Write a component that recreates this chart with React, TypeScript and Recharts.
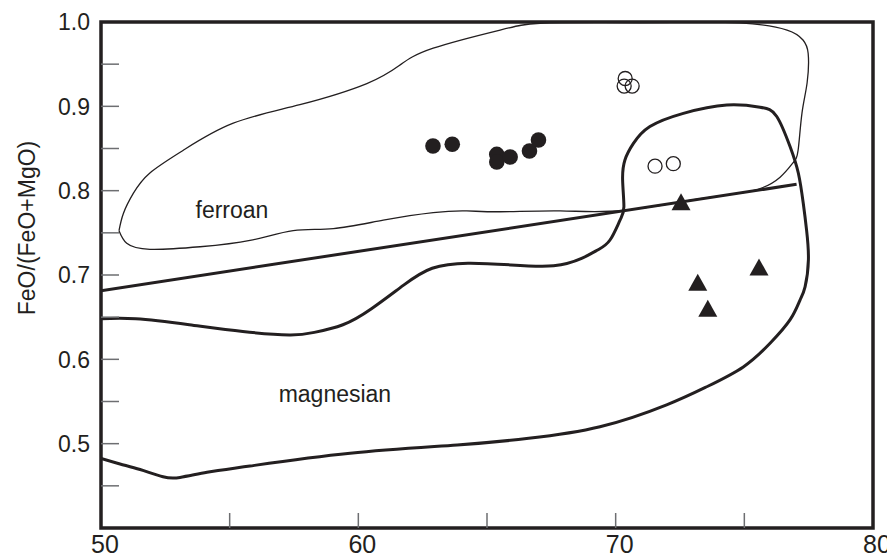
import React from 'react';
import {
  ComposedChart,
  XAxis,
  YAxis,
  Line,
  Scatter,
  ReferenceArea,
  ReferenceDot,
} from 'recharts';

const INK = '#231f20';
const TICK_GRAY = '#6d6e71';
const FONT = '"Liberation Sans", Arial, Helvetica, sans-serif';

const xTicks = [50, 55, 60, 65, 70, 75, 80];
const xLabelled = [50, 60, 70, 80];
const yTicks = [0.45, 0.5, 0.55, 0.6, 0.65, 0.7, 0.75, 0.8, 0.85, 0.9, 0.95, 1.0];
const yLabelled = [0.5, 0.6, 0.7, 0.8, 0.9, 1.0];

const filledCircles = [
  { x: 62.9, y: 0.853 },
  { x: 63.65, y: 0.855 },
  { x: 65.38, y: 0.843 },
  { x: 65.38, y: 0.834 },
  { x: 65.9, y: 0.84 },
  { x: 66.65, y: 0.847 },
  { x: 67.0, y: 0.86 },
];

const openCircles = [
  { x: 70.37, y: 0.933 },
  { x: 70.33, y: 0.924 },
  { x: 70.64, y: 0.924 },
  { x: 71.53, y: 0.829 },
  { x: 72.24, y: 0.832 },
];

const triangles = [
  { x: 72.54, y: 0.787 },
  { x: 75.57, y: 0.7095 },
  { x: 73.19, y: 0.6913 },
  { x: 73.58, y: 0.6605 },
];

const ferroanField = [
  { x: 50.7, y: 0.7525 },
  { x: 50.87, y: 0.773 },
  { x: 51.26, y: 0.797 },
  { x: 51.9, y: 0.821 },
  { x: 53.2, y: 0.848 },
  { x: 55.14, y: 0.88 },
  { x: 57.73, y: 0.902 },
  { x: 60.33, y: 0.927 },
  { x: 61.62, y: 0.949 },
  { x: 62.91, y: 0.969 },
  { x: 65.51, y: 0.9905 },
  { x: 67.06, y: 0.9985 },
  { x: 69.5, y: 0.9995 },
  { x: 72.2, y: 0.9995 },
  { x: 74.83, y: 0.999 },
  { x: 76.66, y: 0.9905 },
  { x: 77.28, y: 0.9787 },
  { x: 77.48, y: 0.963 },
  { x: 77.44, y: 0.928 },
  { x: 77.24, y: 0.892 },
  { x: 77.09, y: 0.848 },
  { x: 76.89, y: 0.833 },
  { x: 76.39, y: 0.816 },
  { x: 75.34, y: 0.8 },
  { x: 73.28, y: 0.7905 },
  { x: 70.29, y: 0.7765 },
  { x: 67.84, y: 0.776 },
  { x: 65.51, y: 0.775 },
  { x: 64.21, y: 0.776 },
  { x: 62.91, y: 0.774 },
  { x: 60.97, y: 0.765 },
  { x: 59.03, y: 0.755 },
  { x: 57.47, y: 0.7525 },
  { x: 55.79, y: 0.741 },
  { x: 53.85, y: 0.7335 },
  { x: 51.9, y: 0.7305 },
  { x: 51.0, y: 0.7376 },
  { x: 50.7, y: 0.7525 },
];

const magnesianField = [
  { x: 50, y: 0.648 },
  { x: 51.35, y: 0.648 },
  { x: 53.43, y: 0.641 },
  { x: 55.51, y: 0.633 },
  { x: 57.32, y: 0.629 },
  { x: 58.29, y: 0.632 },
  { x: 59.4, y: 0.641 },
  { x: 60.51, y: 0.66 },
  { x: 61.76, y: 0.688 },
  { x: 62.87, y: 0.708 },
  { x: 64.26, y: 0.714 },
  { x: 65.92, y: 0.712 },
  { x: 67.59, y: 0.711 },
  { x: 68.7, y: 0.72 },
  { x: 69.32, y: 0.73 },
  { x: 69.78, y: 0.7415 },
  { x: 70.17, y: 0.765 },
  { x: 70.32, y: 0.781 },
  { x: 70.27, y: 0.8126 },
  { x: 70.36, y: 0.8364 },
  { x: 70.69, y: 0.856 },
  { x: 71.33, y: 0.876 },
  { x: 72.63, y: 0.8917 },
  { x: 74.32, y: 0.9016 },
  { x: 75.61, y: 0.899 },
  { x: 76.26, y: 0.888 },
  { x: 76.78, y: 0.852 },
  { x: 77.1, y: 0.8206 },
  { x: 77.29, y: 0.785 },
  { x: 77.42, y: 0.753 },
  { x: 77.49, y: 0.718 },
  { x: 77.36, y: 0.686 },
  { x: 77.16, y: 0.67 },
  { x: 76.78, y: 0.647 },
  { x: 76.0, y: 0.619 },
  { x: 74.96, y: 0.591 },
  { x: 73.54, y: 0.5675 },
  { x: 71.98, y: 0.546 },
  { x: 69.39, y: 0.52 },
  { x: 66.62, y: 0.5063 },
  { x: 63.84, y: 0.4984 },
  { x: 59.68, y: 0.4886 },
  { x: 55.79, y: 0.4735 },
  { x: 54.12, y: 0.466 },
  { x: 53.07, y: 0.46 },
  { x: 52.41, y: 0.4608 },
  { x: 51.52, y: 0.4693 },
  { x: 50.74, y: 0.4759 },
  { x: 50, y: 0.4826 },
];

const dividerLine = [
  { x: 50, y: 0.6814 },
  { x: 77.03, y: 0.8075 },
];

const fieldLabels = [
  { x: 55.09, y: 0.777, text: 'ferroan' },
  { x: 59.09, y: 0.559, text: 'magnesian' },
];

const YTick = (props: any) => {
  const { x, y, payload } = props;
  const v = payload.value as number;
  const labelled = yLabelled.some((t) => Math.abs(t - v) < 1e-6);
  const axisX = x + 11;
  return (
    <g>
      {v < 0.999 && (
        <line x1={axisX} x2={axisX + 18} y1={y} y2={y} stroke={TICK_GRAY} strokeWidth={1.5} />
      )}
      {labelled && (
        <text
          x={x}
          y={y}
          dy="0.36em"
          textAnchor="end"
          fontSize={23}
          fontFamily={FONT}
          fill={INK}
        >
          {v.toFixed(1)}
        </text>
      )}
    </g>
  );
};

const XTick = (props: any) => {
  const { x, y, payload } = props;
  const v = payload.value as number;
  const labelled = xLabelled.includes(v);
  return (
    <g>
      {v > 50 && v < 80 && (
        <line x1={x} x2={x} y1={y} y2={y - 15} stroke={TICK_GRAY} strokeWidth={1.5} />
      )}
      {labelled && (
        <text
          x={x + 4}
          y={y + 7}
          dy="0.72em"
          textAnchor="middle"
          fontSize={25}
          fontFamily={FONT}
          fill={INK}
        >
          {v}
        </text>
      )}
    </g>
  );
};

const circleShape = (props: any) => (
  <circle cx={props.cx} cy={props.cy} r={7.8} fill={INK} />
);
const openShape = (props: any) => (
  <circle cx={props.cx} cy={props.cy} r={7} fill="none" stroke={INK} strokeWidth={1.3} />
);
const triangleShape = (props: any) => {
  const { cx, cy } = props;
  return (
    <polygon
      points={`${cx},${cy - 8.5} ${cx - 9.5},${cy + 8.5} ${cx + 9.5},${cy + 8.5}`}
      fill={INK}
    />
  );
};

const YTitle = (props: any) => {
  const vb = props.viewBox || { x: 0, y: 0, height: 0 };
  const cx = vb.x + 19;
  const cy = vb.y + vb.height / 2 - 47;
  return (
    <text
      x={cx}
      y={cy}
      transform={`rotate(-90 ${cx} ${cy})`}
      textAnchor="middle"
      dominantBaseline="central"
      fontSize={23}
      fontFamily={FONT}
      fill={INK}
    >
      FeO/(FeO+MgO)
    </text>
  );
};

export default function App() {
  return (
    <ComposedChart
      width={887}
      height={550}
      margin={{ top: 14, right: 22, bottom: 0, left: 0 }}
    >
      <XAxis
        dataKey="x"
        type="number"
        domain={[50, 80]}
        ticks={xTicks}
        allowDataOverflow
        axisLine={false}
        tickLine={false}
        tickSize={0}
        tickMargin={0}
        height={30}
        interval={0}
        tick={<XTick />}
      />
      <YAxis
        dataKey="y"
        type="number"
        domain={[0.4, 1.0]}
        ticks={yTicks}
        allowDataOverflow
        axisLine={false}
        tickLine={false}
        tickSize={0}
        tickMargin={11}
        width={93}
        interval={0}
        tick={<YTick />}
        label={{ content: <YTitle /> }}
      />
      <ReferenceArea
        x1={50}
        x2={80}
        y1={0.4}
        y2={1.0}
        fill="none"
        fillOpacity={0}
        stroke={INK}
        strokeWidth={3.5}
        ifOverflow="visible"
      />
      <Line
        data={ferroanField}
        dataKey="y"
        type="natural"
        stroke={INK}
        strokeWidth={1.3}
        dot={false}
        activeDot={false}
        isAnimationActive={false}
      />
      <Line
        data={magnesianField}
        dataKey="y"
        type="natural"
        stroke={INK}
        strokeWidth={3}
        dot={false}
        activeDot={false}
        isAnimationActive={false}
      />
      <Line
        data={dividerLine}
        dataKey="y"
        type="linear"
        stroke={INK}
        strokeWidth={3}
        dot={false}
        activeDot={false}
        isAnimationActive={false}
      />
      <Scatter data={filledCircles} dataKey="y" shape={circleShape} isAnimationActive={false} />
      <Scatter data={openCircles} dataKey="y" shape={openShape} isAnimationActive={false} />
      <Scatter data={triangles} dataKey="y" shape={triangleShape} isAnimationActive={false} />
      {fieldLabels.map((l) => (
        <ReferenceDot
          key={l.text}
          x={l.x}
          y={l.y}
          r={0}
          fill="none"
          stroke="none"
          label={{
            value: l.text,
            position: 'center',
            fontSize: 23,
            fontFamily: FONT,
            fill: INK,
          }}
        />
      ))}
    </ComposedChart>
  );
}
